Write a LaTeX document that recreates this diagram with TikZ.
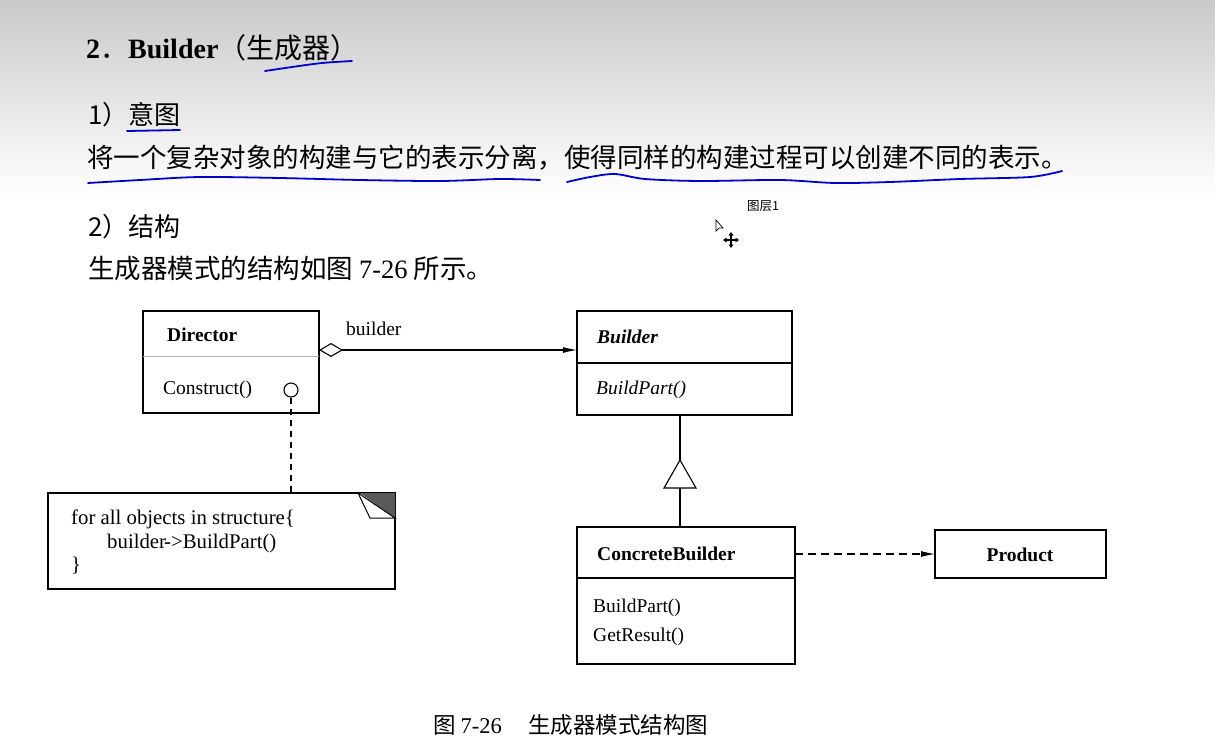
\documentclass[tikz,border=0pt]{standalone}
\usepackage{fontspec}
\setmainfont{Liberation Serif}
\newfontfamily\cjk{Noto Sans CJK SC}
\usetikzlibrary{arrows.meta,calc}
\tikzset{
  pen/.style={draw=blue!80!black, line width=1.8pt, line cap=round},
  umlbox/.style={draw, line width=1.1pt, inner sep=0pt, outer sep=0pt, fill=white},
  umltxt/.style={inner sep=0pt, anchor=base west, font=\fontsize{19.5}{22}\selectfont},
  notetxt/.style={inner sep=0pt, anchor=base west, font=\fontsize{20.8}{22}\selectfont},
  umlbold/.style={umltxt, font=\fontsize{19.5}{22}\selectfont\bfseries},
  cjktxt/.style={inner sep=0pt, anchor=base west, font=\fontsize{26}{28}\selectfont\cjk},
  conn/.style={line width=1.1pt},
}
\begin{document}
\begin{tikzpicture}[x=1pt,y=-1pt]
\useasboundingbox (0,0) rectangle (1215,750);
\fill[white] (0,0) rectangle (1215,750);
\shade[top color=gray!42, bottom color=white] (0,0) rectangle (1215,196);

% heading texts
\node[inner sep=0pt, anchor=base west, font=\fontsize{28}{30}\selectfont] (title) at (86,58)
  {\textbf{2}{\cjk ．}\textbf{Builder}{\cjk （生成器）}};
\node[cjktxt] (intent) at (88,124) {1）意图};
\node[cjktxt, font=\fontsize{26.5}{28}\selectfont\cjk] (intentline) at (87,167)
  {将一个复杂对象的构建与它的表示分离，使得同样的构建过程可以创建不同的表示。};
\node[cjktxt] (struct) at (88,236) {2）结构};
\node[cjktxt, font=\fontsize{26.5}{28}\selectfont\cjk] (structline) at (88,278)
  {生成器模式的结构如图 {\rmfamily 7-26} 所示。};
\node[inner sep=0pt, anchor=base west, font=\fontsize{12.5}{14}\selectfont\cjk] (layer) at (747,210) {图层1};

% cursor icons
\draw[line width=0.7pt, fill=white] (716,220) -- (716,231) -- (719,228) -- (723,228) -- cycle;
\draw[line width=1.2pt] (725,240) -- (737,240) (731,234) -- (731,246);
\fill (731,232) -- (728.5,235.5) -- (733.5,235.5) -- cycle;
\fill (731,248) -- (728.5,244.5) -- (733.5,244.5) -- cycle;
\fill (723,240) -- (726.5,237.5) -- (726.5,242.5) -- cycle;
\fill (739,240) -- (735.5,237.5) -- (735.5,242.5) -- cycle;

% blue pen marks
\draw[pen] plot[smooth] coordinates {(265,71) (292,67) (322,63) (352,61)};
\draw[pen] (127,131) -- (180,130);
\draw[pen] plot[smooth] coordinates {(88,183) (140,180) (200,177) (280,178) (360,180) (440,181) (500,179) (540,180)};
\draw[pen] plot[smooth] coordinates {(567,182) (590,177) (615,174) (645,179) (700,181) (780,180) (835,183) (890,182) (960,179) (1030,177) (1062,171)};

% Director
\node[umlbox, minimum width=176pt, minimum height=102pt] (dir) at (231,362) {};
\draw[gray!60, line width=0.8pt] (dir.west |- 0,356) -- (dir.east |- 0,356);
\node[umlbold] (dirname) at (167,341) {Director};
\node[umltxt] (dirop) at (163,394) {Construct()};
\node[draw, circle, line width=1.1pt, minimum size=14pt, inner sep=0pt] (cir) at (291,390) {};

% Note
\node[umlbox, minimum width=347pt, minimum height=96pt] (note) at (221.5,541) {};
\fill[black!65] ([xshift=-35pt]note.north east) -- (note.north east) -- ++(0,25) -- cycle;
\draw[line width=1pt, fill=white] ([xshift=-37pt]note.north east) -- ++(12,25) -- ++(25,0) -- cycle;
\node[notetxt] (n1) at (71,524) {for all objects in structure\{};
\node[notetxt] (n2) at (107,548) {builder{\kern-2pt}->BuildPart()};
\node[notetxt] (n3) at (71,571) {\}};
\draw[conn, dash pattern=on 6pt off 5pt] (cir.south) -- (cir.south |- note.north);

% Builder
\node[umlbox, minimum width=215pt, minimum height=104pt] (bld) at (684.5,363) {};
\draw[line width=1.1pt] (bld.west) -- (bld.east);
\node[umlbold, font=\fontsize{19.5}{22}\selectfont\bfseries\itshape] (bldname) at (597,343) {Builder};
\node[umltxt, font=\fontsize{19.5}{22}\selectfont\itshape] (bldop) at (596,394) {BuildPart()};

% aggregation
\draw[conn, {Diamond[open,length=24pt,width=14pt,line width=1.1pt]}-{Latex[length=14pt,width=6pt]}]
  ([yshift=12pt]dir.east) -- ([yshift=12pt]dir.east -| bld.west);
\node[umltxt] (agglbl) at (346,335) {builder};

% ConcreteBuilder
\node[umlbox, minimum width=218pt, minimum height=137pt] (cb) at (686,595.5) {};
\draw[line width=1.1pt] (cb.west |- 0,578) -- (cb.east |- 0,578);
\node[umlbold] (cbname) at (597,560) {ConcreteBuilder};
\node[umltxt] (cbop1) at (593,612) {BuildPart()};
\node[umltxt] (cbop2) at (593,641) {GetResult()};

% inheritance
\coordinate (apex) at (680,460);
\coordinate (tbase) at (680,488);
\draw[conn] (apex) -- (apex |- bld.south);
\draw[conn] (tbase) -- (tbase |- cb.north);
\draw[conn, fill=white] (apex) -- ++(16,28) -- ++(-32,0) -- cycle;

% Product
\node[umlbox, minimum width=171pt, minimum height=48pt] (prod) at (1020.5,554) {};
\node[umlbold, anchor=base] (prodname) at (1020,561) {Product};
\draw[conn, dash pattern=on 8pt off 5pt, -{Latex[length=14pt,width=6pt]}] (prod.west -| cb.east) -- (prod.west);

% caption
\node[inner sep=0pt, anchor=base west, font=\fontsize{22.5}{24}\selectfont\cjk] (caption) at (433,733)
  {图 {\rmfamily 7-26}\hspace{4pt}　生成器模式结构图};
\end{tikzpicture}
\end{document}
